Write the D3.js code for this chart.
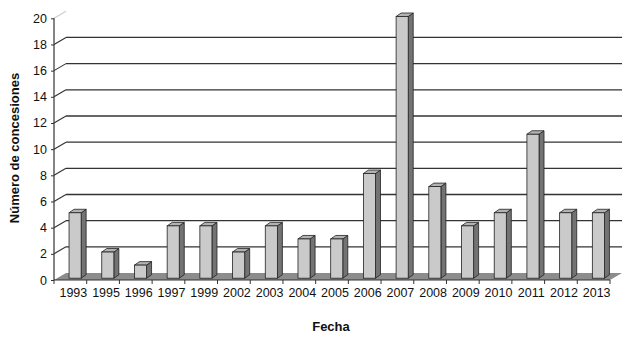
<!DOCTYPE html>
<html>
<head>
<meta charset="utf-8">
<script src="https://cdn.jsdelivr.net/npm/d3@7"></script>
<style>
  body { margin: 0; background: #fff; }
  text { font-family: "Liberation Sans", Arial, sans-serif; fill: #111; }
</style>
</head>
<body>
<div id="chart"></div>
<script>
// data
const years = ['1993','1995','1996','1997','1999','2002','2003','2004','2005','2006','2007','2008','2009','2010','2011','2012','2013'];
const counts = [5, 2, 1, 4, 4, 2, 4, 3, 3, 8, 20, 7, 4, 5, 11, 5, 5];
const yTicks = [0, 2, 4, 6, 8, 10, 12, 14, 16, 18, 20];

const width = 640, height = 344;
const plotLeft = 54, plotRight = 610, plotTop = 18.3, plotBottom = 280;
const depthX = 12, depthY = 7;   // back wall offset
const barDX = 5, barDY = 3.5;    // bar depth

const svg = d3.select('#chart').append('svg').attr('width', width).attr('height', height);

const x = d3.scaleBand().domain(years).range([plotLeft, plotRight]);
const y = d3.scaleLinear().domain([0, 20]).range([plotBottom, plotTop]);

// floor
svg.append('path')
  .attr('d', `M${plotLeft},${plotBottom} L${plotLeft + depthX},${plotBottom - depthY} L${plotRight + depthX},${plotBottom - depthY} L${plotRight},${plotBottom} Z`)
  .attr('fill', '#8c8c8c');

// gridlines on the back wall + slanted connectors
const g = svg.append('g');
yTicks.filter(t => t > 0).forEach(t => {
  const yy = y(t);
  if (t < 20) {
    g.append('line').attr('x1', plotLeft + depthX).attr('x2', plotRight + depthX)
      .attr('y1', yy - depthY).attr('y2', yy - depthY)
      .attr('stroke', '#333').attr('stroke-width', 1.3);
  }
  g.append('line').attr('x1', plotLeft).attr('x2', plotLeft + depthX)
    .attr('y1', yy).attr('y2', yy - depthY)
    .attr('stroke', t === 20 ? '#ccc' : '#333').attr('stroke-width', 1.1);
});

// bars
const bw = x.bandwidth();
const bars = svg.append('g').selectAll('g').data(years).join('g');
bars.each(function(d, i) {
  const sel = d3.select(this);
  const x0 = x(d) + bw * 0.46;
  const w = bw * 0.37;
  const yb = y(0) - 1.8;
  const yt = y(counts[i]) - 1.8;
  sel.append('path')
    .attr('d', `M${x0 + w},${yt} L${x0 + w + barDX},${yt - barDY} L${x0 + w + barDX},${yb - barDY} L${x0 + w},${yb} Z`)
    .attr('fill', '#737373').attr('stroke', '#222').attr('stroke-width', 0.8);
  sel.append('path')
    .attr('d', `M${x0},${yt} L${x0 + barDX},${yt - barDY} L${x0 + w + barDX},${yt - barDY} L${x0 + w},${yt} Z`)
    .attr('fill', '#b2b2b2').attr('stroke', '#222').attr('stroke-width', 0.8);
  sel.append('rect')
    .attr('x', x0).attr('y', yt).attr('width', w).attr('height', yb - yt)
    .attr('fill', '#cacaca').attr('stroke', '#222').attr('stroke-width', 0.8);
});

// axes
const axisY = svg.append('g').attr('transform', `translate(${plotLeft},0)`)
  .call(d3.axisLeft(y).tickValues(yTicks).tickSize(3).tickPadding(4));
const axisX = svg.append('g').attr('transform', `translate(0,${plotBottom})`)
  .call(d3.axisBottom(x).tickSize(0).tickPadding(8));
axisX.selectAll('text').attr('dx', 3);
// x ticks between categories
svg.append('g').selectAll('line').data(years.concat(['end'])).join('line')
  .attr('x1', (d, i) => plotLeft + i * bw).attr('x2', (d, i) => plotLeft + i * bw)
  .attr('y1', plotBottom).attr('y2', plotBottom + 4)
  .attr('stroke', '#333');

[axisX, axisY].forEach(a => {
  a.select('.domain').attr('stroke', '#333').attr('stroke-width', 1.2);
  a.selectAll('.tick line').attr('stroke', '#333');
  a.selectAll('text').style('font-size', '12.5px').attr('fill', '#111')
    .style('font-family', '"Liberation Sans", Arial, sans-serif');
});
axisY.select('.domain').attr('d', `M0,${plotBottom}V${plotTop}`);
axisX.select('.domain').attr('d', `M${plotLeft},0H${plotRight}`);

// labels
svg.append('text').attr('x', 331).attr('y', 331).attr('text-anchor', 'middle')
  .style('font-size', '13px').style('font-weight', 'bold').text('Fecha');
svg.append('text').attr('transform', `translate(19,148) rotate(-90)`).attr('text-anchor', 'middle')
  .style('font-size', '13px').style('font-weight', 'bold').text('Número de concesiones');
</script>
</body>
</html>
